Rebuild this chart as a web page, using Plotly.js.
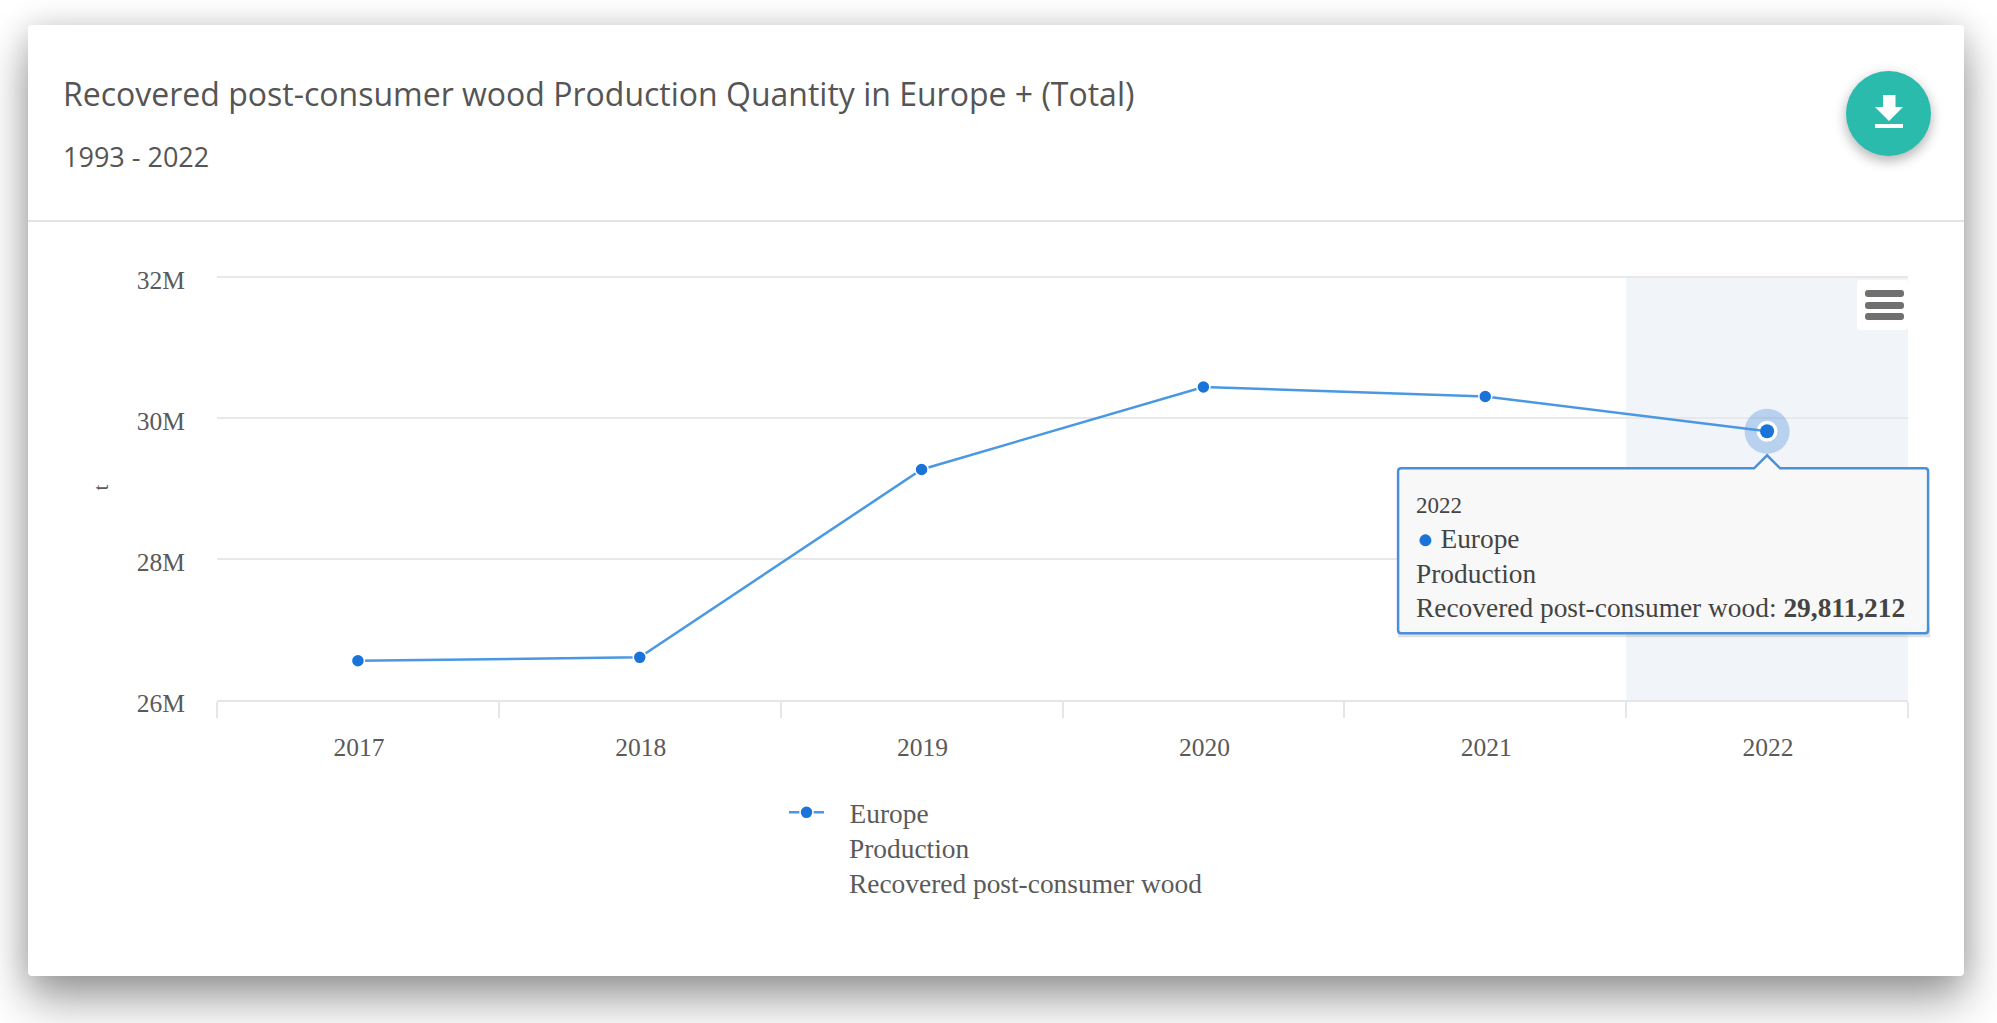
<!DOCTYPE html>
<html>
<head>
<meta charset="utf-8">
<script src="https://cdn.plot.ly/plotly-3.0.1.min.js"></script>
<style>
html,body{margin:0;padding:0;width:1997px;height:1023px;overflow:hidden;background:#fff}
#card{position:absolute;left:28px;top:25px;width:1936px;height:951px;background:#fff;border-radius:4px;
 box-shadow:0 24px 46px rgba(0,0,0,.38),0 0 30px rgba(0,0,0,.14)}
#rule{position:absolute;left:28px;top:220px;width:1936px;height:2px;background:#e4e4e4}
#chart{position:absolute;left:0;top:0;width:1997px;height:1023px}
#fab{position:absolute;left:1846px;top:71px;width:85px;height:85px;border-radius:50%;background:#2bbbad;
 box-shadow:0 5px 11px rgba(0,0,0,.18),0 4px 15px rgba(0,0,0,.15)}
#fab svg{position:absolute;left:0;top:0}
#menu{position:absolute;left:1857px;top:280px;width:51px;height:50px;background:#fff;border-radius:3px}
#menu i{position:absolute;left:8px;width:39px;height:7px;background:#707070;border-radius:3px}
</style>
</head>
<body>
<div id="card"></div>
<div id="rule"></div>
<div id="chart"></div>
<div id="fab"><svg width="85" height="85" viewBox="0 0 85 85"><path d="M37 24h12.500v12H57L43 50 29 36h8zM29 53h28v4H29z" fill="#fff"/></svg></div>
<div id="menu"><i style="top:10px"></i><i style="top:21.500px"></i><i style="top:33px"></i></div>
<script>
const years = ['2017','2018','2019','2020','2021','2022'];
const production = [26557000, 26605000, 29270000, 30440000, 30305000, 29811212];
const yTickValues = [26000000, 28000000, 30000000, 32000000];
const yTickLabels = ['26M','28M','30M','32M'];
const seriesLines = ['Europe','Production','Recovered post-consumer wood'];
const chartTitle = 'Recovered post-consumer wood Production Quantity in Europe + (Total)';
const chartSubtitle = '1993 - 2022';
const yUnit = 't';

const L=217,R=1908,T=275,B=700,W=1997,H=1023;
const yRange=[26000000,32028000];
const px=x=>(x-L)/(R-L), py=y=>(B-y)/(B-T);
const serif='"Liberation Serif","Times New Roman",serif';
const textCol='#5a5a5a';
const tipCol='#444444';
const lastIndex=years.length-1;
const lastYear=years[lastIndex], lastVal=production[lastIndex];

const traces=[
 {x:[lastYear],y:[lastVal],type:'scatter',mode:'markers',showlegend:false,hoverinfo:'skip',
  marker:{size:45,color:'rgba(26,115,216,0.27)'}},
 {x:[lastYear],y:[lastVal],type:'scatter',mode:'markers',showlegend:false,hoverinfo:'skip',
  marker:{size:21,color:'#ffffff'}},
 {x:years,y:production,type:'scatter',mode:'lines+markers',name:'\u00A0\u00A0\u00A0'+seriesLines[0],
  line:{color:'#4a98e2',width:2.5},
  marker:{size:13,color:'#1a73d8',line:{color:'#ffffff',width:1.5}}},
 {x:[lastYear],y:[lastVal],type:'scatter',mode:'markers',showlegend:false,hoverinfo:'skip',
  marker:{size:14,color:'#1a73d8'}}
];

const boxPath='M -365 -37 L -13 -37 L 0 -24 L 13 -37 L 158 -37 Q 161 -37 161 -40 L 161 -199 Q 161 -202 158 -202 L -366 -202 Q -369 -202 -369 -199 L -369 -40 Q -369 -37 -366 -37 Z';
const shadowPath='M -369 -196 L 163 -196 L 163 -206 L -369 -206 Z';
const anchored=(path,extra)=>Object.assign({type:'path',layer:'above',xref:'paper',yref:'paper',xsizemode:'pixel',ysizemode:'pixel',
  xanchor:(lastIndex+0.5)/years.length,yanchor:(lastVal-yRange[0])/(yRange[1]-yRange[0]),path:path},extra);

const shapes=[
 {type:'rect',layer:'below',xref:'x',yref:'y',x0:lastIndex-0.5,x1:lastIndex+0.5,y0:26000000,y1:32000000,fillcolor:'#f1f4f9',line:{width:0}},
 anchored(shadowPath,{fillcolor:'rgba(0,0,0,0.12)',line:{width:0}}),
 anchored(boxPath,{fillcolor:'rgba(248,248,248,0.97)',line:{color:'#4a90d9',width:2.5}})
];

const note=(text,x,y,size,extra)=>Object.assign({text:text,xref:'paper',yref:'paper',x:px(x),y:py(y),xanchor:'left',yanchor:'middle',
  showarrow:false,align:'left',font:{family:serif,size:size,color:textCol}},extra||{});
const tipFont=size=>({font:{family:serif,size:size,color:tipCol}});

const annotations=[
 note(chartSubtitle,61,156,27,{font:{family:'"Open Sans",sans-serif',size:27,color:'#555'}}),
 note(seriesLines[1],847,849,27.4),
 note(seriesLines[2],847,884,27.4),
 note(lastYear,1414,505,23,tipFont(23)),
 note('<span style="color:#1a73d8">●</span> '+seriesLines[0],1415,539,27.4,tipFont(27.4)),
 note(seriesLines[1],1414,574,27.4,tipFont(27.4)),
 note(seriesLines[2]+': <b>'+lastVal.toLocaleString('en-US')+'</b>',1414,608,27.4,tipFont(27.4))
];

const layout={
 width:W,height:H,autosize:false,
 paper_bgcolor:'rgba(0,0,0,0)',plot_bgcolor:'rgba(0,0,0,0)',
 margin:{l:L,r:W-R,t:T,b:H-B,pad:0},
 title:{text:chartTitle,x:63/W,y:1-95/H,xref:'container',yref:'container',xanchor:'left',yanchor:'middle',
  font:{family:'"Open Sans",sans-serif',size:32,color:'#555'}},
 xaxis:{type:'category',categoryorder:'array',categoryarray:years,range:[-0.5,5.5],
  tickson:'boundaries',ticks:'outside',ticklen:16,tickwidth:2,tickcolor:'#e6e6e6',
  showline:true,linecolor:'#e6e6e6',linewidth:2,showgrid:false,zeroline:false,
  ticklabelstandoff:23,ticklabelshift:1,tickfont:{family:serif,size:25.5,color:textCol},fixedrange:true},
 yaxis:{range:yRange,tickmode:'array',tickvals:yTickValues,ticktext:yTickLabels,
  gridcolor:'#e8e8e8',gridwidth:2,showline:false,zeroline:false,ticks:'',
  ticklabelstandoff:31,ticklabelshift:3,tickfont:{family:serif,size:25.5,color:textCol},fixedrange:true,
  title:{text:yUnit,standoff:22,font:{family:serif,size:21,color:textCol}}},
 showlegend:true,
 legend:{x:px(784),y:py(788),xanchor:'left',yanchor:'top',bgcolor:'rgba(0,0,0,0)',
  font:{family:serif,size:27.4,color:textCol},itemwidth:35},
 shapes:shapes,annotations:annotations,hovermode:false
};
Plotly.newPlot('chart',traces,layout,{displayModeBar:false,responsive:false});
</script>
</body>
</html>
